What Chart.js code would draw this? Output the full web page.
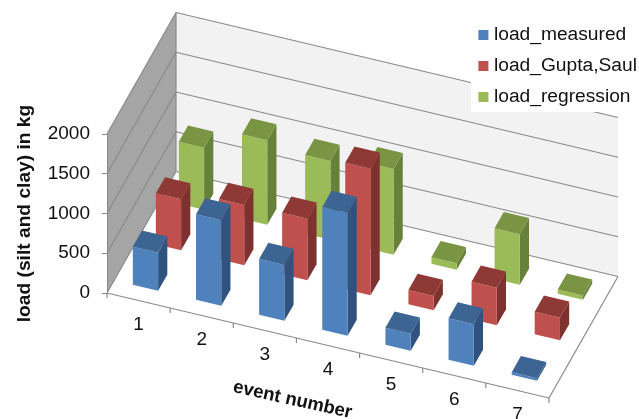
<!DOCTYPE html>
<html lang="en">
<head>
    <meta charset="UTF-8">
    <title>Load per event</title>
    <script src="https://cdn.jsdelivr.net/npm/chart.js@4"></script>
    <style>
        html, body { margin: 0; background: #fff; }
        canvas { display: block; }
    </style>
</head>
<body>
    <canvas id="loadChart" width="639" height="419"></canvas>

    <script>

        const events = ['1', '2', '3', '4', '5', '6', '7'];
        const loadMeasured = [485, 1082, 710, 1553, 222, 528, 40];
        const loadGuptaSaul = [648, 765, 782, 1600, 187, 479, 291];
        const loadRegression = [788, 1069, 998, 1085, 90, 642, 60];
        const yTickStep = 500;
        const yMax = 2000;

        // Oblique projection: front plane comes from the scales, the rest is sheared from it
        const slope = 105 / 442;        // drop of the front edge per pixel along x
        const rowDx = 23;               // screen offset of one series row going back
        const rowDy = -40.5;
        const rowCount = 3;
        const gridColor = '#8a8a8a';
        const textColor = '#111';

        const faces = [
            { front: '#4f81bd', top: '#3c6594', side: '#2f527e' },
            { front: '#c0504d', top: '#8f3937', side: '#7d3230' },
            { front: '#9bbb59', top: '#799443', side: '#67803a' }
        ];

        let floorLeft = 0;

        function project(x, y, row) {
            return [x + row * rowDx, y + (x - floorLeft) * slope + row * rowDy];
        }

        function fillPoly(ctx, color, points) {
            ctx.fillStyle = color;
            ctx.beginPath();
            points.forEach((p, i) => i ? ctx.lineTo(p[0], p[1]) : ctx.moveTo(p[0], p[1]));
            ctx.closePath();
            ctx.fill();
        }

        function strokeLine(ctx, a, b) {
            ctx.beginPath();
            ctx.moveTo(a[0], a[1]);
            ctx.lineTo(b[0], b[1]);
            ctx.stroke();
        }

        // Bars become prisms; the category and value pixels still come from the scales
        class Bar3DController extends Chart.BarController {
            draw() {
                const ctx = this.chart.ctx;
                const colors = faces[this.index];
                const near = this.index + 0.3;
                const far = this.index + 0.7;
                this._cachedMeta.data.forEach(bar => {
                    const xl = bar.x - bar.width / 2;
                    const xr = bar.x + bar.width / 2;
                    fillPoly(ctx, colors.side, [
                        project(xr, bar.y, near), project(xr, bar.y, far),
                        project(xr, bar.base, far), project(xr, bar.base, near)
                    ]);
                    fillPoly(ctx, colors.front, [
                        project(xl, bar.y, near), project(xr, bar.y, near),
                        project(xr, bar.base, near), project(xl, bar.base, near)
                    ]);
                    fillPoly(ctx, colors.top, [
                        project(xl, bar.y, near), project(xr, bar.y, near),
                        project(xr, bar.y, far), project(xl, bar.y, far)
                    ]);
                });
            }
        }
        Bar3DController.id = 'bar3d';
        Chart.register(Bar3DController);

        const roomPlugin = {
            id: 'room',
            afterLayout(chart) {
                // Legend sits in the top right corner, over the back wall
                const legend = chart.legend;
                legend.left = 470.6;
                legend.top = 13.6;
                legend.right = 639;
                legend.bottom = 132;
                legend.width = legend.right - legend.left;
                legend.height = legend.bottom - legend.top;
            },
            beforeDraw(chart) {
                const ctx = chart.ctx;
                const xs = chart.scales.x;
                const ys = chart.scales.y;
                const left = xs.left;
                const right = xs.right;
                const y0 = ys.getPixelForValue(0);
                const yTop = ys.getPixelForValue(yMax);
                floorLeft = left;

                // Back wall and left wall
                fillPoly(ctx, '#f2f2f2', [
                    project(left, yTop, rowCount), project(right, yTop, rowCount),
                    project(right, y0, rowCount), project(left, y0, rowCount)
                ]);
                fillPoly(ctx, '#a5a5a5', [
                    project(left, y0, 0), project(left, y0, rowCount),
                    project(left, yTop, rowCount), project(left, yTop, 0)
                ]);

                // Gridlines run along both walls
                ctx.lineWidth = 1.2;
                ctx.strokeStyle = gridColor;
                ys.ticks.forEach(tick => {
                    const y = ys.getPixelForValue(tick.value);
                    strokeLine(ctx, project(left, y, 0), project(left, y, rowCount));
                    strokeLine(ctx, project(left, y, rowCount), project(right, y, rowCount));
                });
                strokeLine(ctx, project(left, y0, rowCount), project(left, yTop, rowCount));

                // Floor edges
                strokeLine(ctx, project(left, y0, 0), project(right, y0, 0));
                strokeLine(ctx, project(right, y0, 0), project(right, y0, rowCount));

                // Category ticks and labels follow the front edge
                const stepX = (right - left) / events.length;
                for (let i = 0; i <= events.length; i++) {
                    const p = project(left + i * stepX, y0, 0);
                    strokeLine(ctx, p, [p[0], p[1] + 5]);
                }
                ctx.fillStyle = textColor;
                ctx.font = '19px "Liberation Sans"';
                ctx.textAlign = 'center';
                ctx.textBaseline = 'middle';
                events.forEach((label, i) => {
                    const p = project(xs.getPixelForValue(i), y0, 0);
                    ctx.fillText(label, p[0], p[1] + 24.5);
                });

                ctx.save();
                ctx.translate(292.5, 400);
                ctx.rotate(Math.atan(slope) - 0.015);
                ctx.font = 'bold 18.5px "Liberation Sans"';
                ctx.fillText('event number', 0, 0);
                ctx.restore();

                // White panel behind the legend
                ctx.fillStyle = '#fff';
                ctx.fillRect(471, 0, 168, 112);
            }
        };

        function makeDataset(label, values, index) {
            return {
                label: label,
                data: values,
                backgroundColor: faces[index].front,
                borderColor: faces[index].front,
                borderWidth: 8,
                clip: false
            };
        }

        new Chart(document.getElementById('loadChart'), {
            type: 'bar3d',
            data: {
                labels: events,
                datasets: [
                    makeDataset('load_measured', loadMeasured, 0),
                    makeDataset('load_Gupta,Saul', loadGuptaSaul, 1),
                    makeDataset('load_regression', loadRegression, 2)
                ]
            },
            plugins: [roomPlugin],
            options: {
                responsive: false,
                animation: false,
                events: [],
                layout: { padding: { left: 0, top: 134, right: 90, bottom: 0 } },
                grouped: false,
                barPercentage: 0.4,
                categoryPercentage: 1,
                scales: {
                    x: {
                        type: 'category',
                        offset: true,
                        grid: { display: false },
                        border: { display: false },
                        ticks: { display: false },
                        afterFit(scale) { scale.height = 126; }
                    },
                    y: {
                        type: 'linear',
                        min: 0,
                        max: yMax,
                        grid: { drawOnChartArea: false, color: gridColor, tickLength: 5 },
                        border: { display: true, color: gridColor },
                        ticks: {
                            stepSize: yTickStep,
                            color: textColor,
                            padding: 12,
                            font: { family: '"Liberation Sans"', size: 19 },
                            callback: value => String(value)
                        },
                        title: {
                            display: true,
                            text: 'load (silt and clay) in kg',
                            color: textColor,
                            padding: { top: 13, bottom: 0 },
                            font: { family: '"Liberation Sans"', size: 19.2, weight: 'bold' }
                        },
                        afterFit(scale) { scale.width = 107; }
                    }
                },
                plugins: {
                    tooltip: { enabled: false },
                    legend: {
                        position: 'chartArea',
                        align: 'start',
                        labels: {
                            boxWidth: 2,
                            boxHeight: 2,
                            padding: 11.8,
                            color: textColor,
                            font: { family: '"Liberation Sans"', size: 19.2 }
                        }
                    }
                }
            }
        });

    </script>
</body>
</html>
